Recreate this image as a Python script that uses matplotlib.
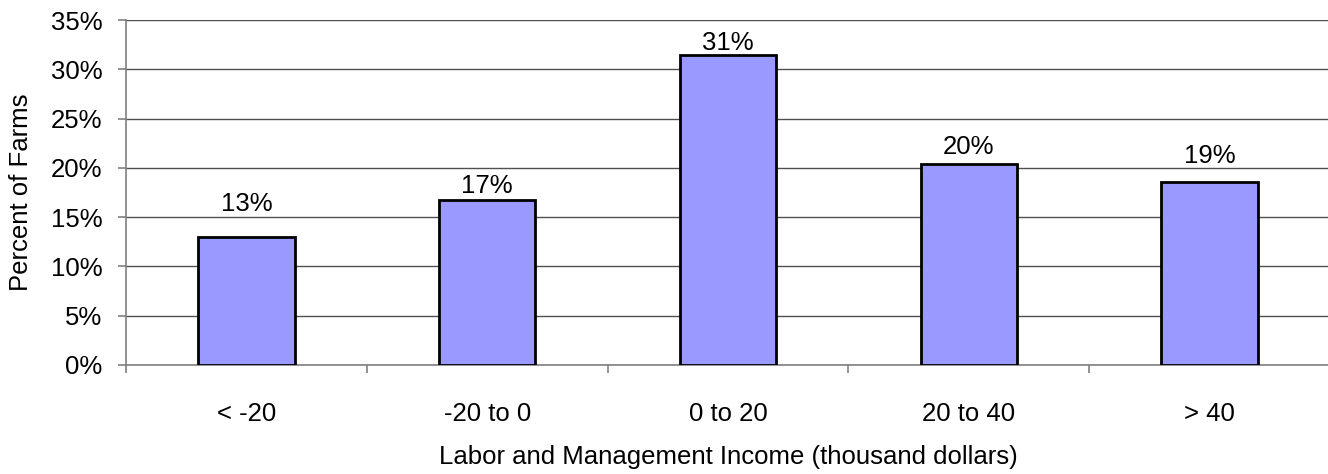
import numpy as np
import matplotlib
matplotlib.use("Agg")
import matplotlib.pyplot as plt

plt.rcParams['font.family'] = ['Liberation Sans', 'DejaVu Sans']

# income classes and share of farms in each (percent)
categories = ['< -20', '-20 to 0', '0 to 20', '20 to 40', '> 40']
pct_farms = [13.0, 16.7, 31.4, 20.4, 18.6]
# gap between bar top and label baseline, in points
label_gap = [18.5, 5, 4.3, 7.2, 13.7]

FS = 18.5

fig = plt.figure(figsize=(13.28, 4.74), dpi=100)
ax = fig.add_axes([126 / 1328, 1 - 365 / 474, 1204 / 1328, 345 / 474])

x = np.arange(len(categories))
bars = ax.bar(x, pct_farms, width=0.4, color='#9999ff', edgecolor='black',
              linewidth=2.0, zorder=3)

for b, v, g in zip(bars, pct_farms, label_gap):
    ax.annotate(f'{v:.0f}%', (b.get_x() + b.get_width() / 2, v),
                xytext=(0, g), textcoords='offset points',
                ha='center', va='baseline', fontsize=FS)

ax.set_xlim(-0.5, len(categories) - 0.5)
ax.set_ylim(0, 35)
ax.set_yticks(np.arange(0, 36, 5))
ax.set_yticklabels([f'{t}%' for t in range(0, 36, 5)])
ax.yaxis.grid(True, color='#505050', linewidth=1.0, zorder=0)

ax.set_xticks(x)
ax.set_xticklabels(categories)
ax.set_xticks(np.arange(-0.5, len(categories), 1.0), minor=True)
ax.tick_params(axis='x', which='major', length=0, pad=26.5, labelsize=FS)
ax.tick_params(axis='x', which='minor', length=6, color='#808080', width=1.2)
ax.tick_params(axis='y', length=6, color='#808080', width=1.2, labelsize=FS, pad=11)

for s in ['top', 'right']:
    ax.spines[s].set_visible(False)
for s in ['left', 'bottom']:
    ax.spines[s].set_color('#808080')
    ax.spines[s].set_linewidth(1.2)

ax.set_ylabel('Percent of Farms', fontsize=FS)
ax.yaxis.set_label_coords(-0.0772, 0.5)
ax.set_xlabel('Labor and Management Income (thousand dollars)', fontsize=FS)
ax.xaxis.set_label_coords(0.5, -0.232)

fig.savefig('out.png', dpi=100)
